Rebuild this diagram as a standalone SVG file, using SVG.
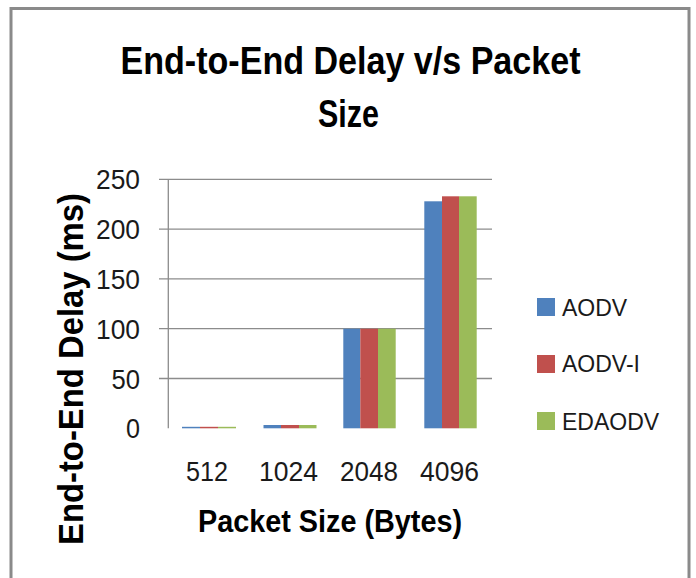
<svg xmlns="http://www.w3.org/2000/svg" width="696" height="578" viewBox="0 0 696 578">
<style>
.frame{fill:#ffffff;stroke:#8a8a8a;stroke-width:3}
.grid{stroke:#8c8c8c;stroke-width:1.3;fill:none}
.title{font-family:"Liberation Sans",Arial,sans-serif;font-weight:bold;fill:#000}
.tick{font-family:"Liberation Sans",Arial,sans-serif;font-size:28px;fill:#1a1a1a}
.leg{font-family:"Liberation Sans",Arial,sans-serif;font-size:23px;fill:#1a1a1a}
.s1{fill:#4F81BD}
.s2{fill:#C0504D}
.s3{fill:#9BBB59}
</style>
<rect x="0" y="0" width="696" height="578" fill="#ffffff"/>
<rect class="frame" x="11" y="8.5" width="678" height="590"/>

<g id="chart-title">
<text class="title" x="350.5" y="74" font-size="38" text-anchor="middle" textLength="460" lengthAdjust="spacingAndGlyphs">End-to-End Delay v/s Packet</text>
<text class="title" x="348.5" y="126.5" font-size="38" text-anchor="middle" textLength="61" lengthAdjust="spacingAndGlyphs">Size</text>
</g>

<g id="gridlines">
<line class="grid" x1="159" y1="179.3" x2="492" y2="179.3"/>
<line class="grid" x1="159" y1="229.1" x2="492" y2="229.1"/>
<line class="grid" x1="159" y1="278.9" x2="492" y2="278.9"/>
<line class="grid" x1="159" y1="328.7" x2="492" y2="328.7"/>
<line class="grid" x1="159" y1="378.5" x2="492" y2="378.5"/>
<line class="grid" x1="168.3" y1="179.3" x2="168.3" y2="428.3"/>
</g>

<g id="y-axis">
<text class="tick" x="140" y="189.3" text-anchor="end" textLength="44" lengthAdjust="spacingAndGlyphs">250</text>
<text class="tick" x="140" y="239.1" text-anchor="end" textLength="44" lengthAdjust="spacingAndGlyphs">200</text>
<text class="tick" x="140" y="288.9" text-anchor="end" textLength="44" lengthAdjust="spacingAndGlyphs">150</text>
<text class="tick" x="140" y="338.7" text-anchor="end" textLength="44" lengthAdjust="spacingAndGlyphs">100</text>
<text class="tick" x="140" y="388.5" text-anchor="end" textLength="28.5" lengthAdjust="spacingAndGlyphs">50</text>
<text class="tick" x="140" y="438.3" text-anchor="end" textLength="14" lengthAdjust="spacingAndGlyphs">0</text>
<text class="title" transform="translate(83,369) rotate(-90)" font-size="35" text-anchor="middle" textLength="352" lengthAdjust="spacingAndGlyphs">End-to-End Delay (ms)</text>
</g>

<g id="x-axis">
<text class="tick" x="207" y="481" text-anchor="middle" textLength="42" lengthAdjust="spacingAndGlyphs">512</text>
<text class="tick" x="288.5" y="481" text-anchor="middle" textLength="59" lengthAdjust="spacingAndGlyphs">1024</text>
<text class="tick" x="369" y="481" text-anchor="middle" textLength="58" lengthAdjust="spacingAndGlyphs">2048</text>
<text class="tick" x="449.5" y="481" text-anchor="middle" textLength="59" lengthAdjust="spacingAndGlyphs">4096</text>
<text class="title" x="330" y="531.5" font-size="31" text-anchor="middle" textLength="264" lengthAdjust="spacingAndGlyphs">Packet Size (Bytes)</text>
</g>

<g id="bars">
<g id="series-aodv">
<rect class="s1" x="182" y="426.8" width="18" height="1.5"/>
<rect class="s1" x="263.5" y="425" width="17.5" height="3.3"/>
<rect class="s1" x="343.3" y="328.7" width="17" height="99.6"/>
<rect class="s1" x="424.3" y="201.3" width="17.7" height="227"/>
</g>
<g id="series-aodv-i">
<rect class="s2" x="200" y="426.8" width="18" height="1.5"/>
<rect class="s2" x="281" y="425" width="18" height="3.3"/>
<rect class="s2" x="360.3" y="328.7" width="17.7" height="99.6"/>
<rect class="s2" x="442" y="196.3" width="17" height="232"/>
</g>
<g id="series-edaodv">
<rect class="s3" x="218" y="426.8" width="18" height="1.5"/>
<rect class="s3" x="299" y="425" width="17.5" height="3.3"/>
<rect class="s3" x="378" y="328.7" width="17.7" height="99.6"/>
<rect class="s3" x="459" y="196.3" width="17.7" height="232"/>
</g>
</g>

<g id="legend">
<rect class="s1" x="537" y="298" width="18" height="18"/>
<text class="leg" x="562" y="315.5">AODV</text>
<rect class="s2" x="537" y="355" width="18" height="18"/>
<text class="leg" x="562" y="372">AODV-I</text>
<rect class="s3" x="537" y="412" width="18" height="18"/>
<text class="leg" x="562" y="429.5">EDAODV</text>
</g>
</svg>
